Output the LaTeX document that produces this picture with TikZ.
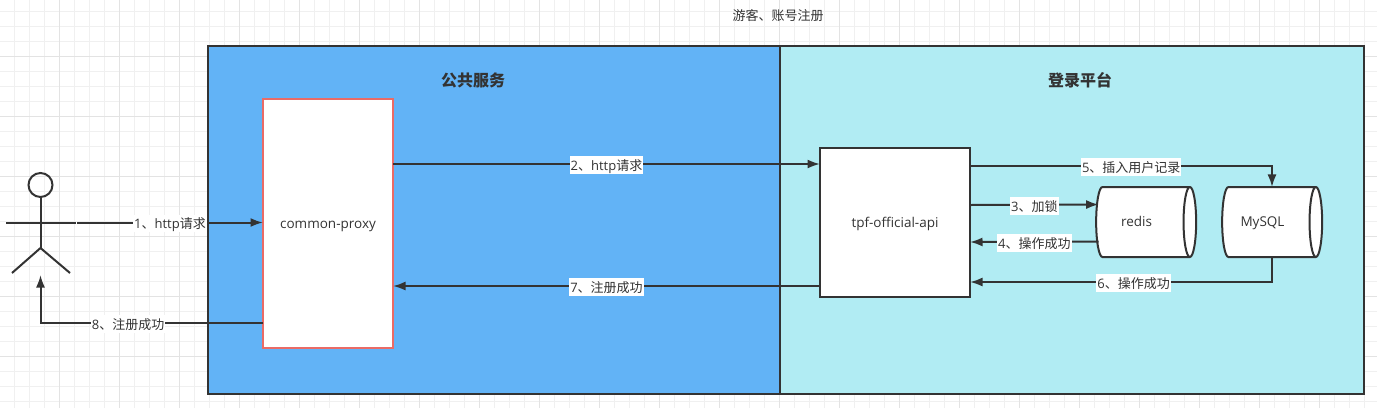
\documentclass[tikz,border=0pt]{standalone}
\usepackage{fontspec}
\usepackage{tikz}
\usetikzlibrary{arrows.meta,shapes.geometric}
\setmainfont{Open Sans}
\newfontfamily\cjk{Noto Sans CJK SC}
\newcommand{\zh}[1]{{\cjk #1}}
\definecolor{inkdark}{HTML}{333333}

\begin{document}
\begin{tikzpicture}[
        x=1pt,y=-1pt,
        minorgrid/.style={draw=black!6,line width=1pt},
        majorgrid/.style={draw=black!11,line width=1pt},
        panel/.style={draw=inkdark,line width=2pt,outer sep=0pt,inner sep=0pt,minimum width=#1,minimum height=348pt},
        box/.style={draw=inkdark,fill=white,line width=2pt,outer sep=0pt,inner sep=0pt,text=inkdark,text height=9pt,text depth=0pt,font=\fontsize{13.5}{15}\selectfont},
        store/.style={box,shape=cylinder,aspect=1.4,minimum width=70pt,minimum height=100pt},
        paneltitle/.style={text=inkdark,font=\fontsize{16}{18}\selectfont\bfseries},
        link/.style={draw=inkdark,line width=2pt,-{Latex[length=12.5pt,width=9pt]}},
        lab/.style={fill=white,text=inkdark,inner xsep=1pt,inner ysep=1.5pt,yshift=-1pt,text height=12.5pt,text depth=2pt,font=\fontsize{13}{15}\selectfont},
        actor/.style={draw=inkdark,line width=2pt}]

    \useasboundingbox (0,0) rectangle (1377,408);

    % grid
    \foreach \gx in {14.5,29.5,...,1375} {\draw[minorgrid] (\gx,0) -- (\gx,408);}
    \foreach \gy in {11.5,26.5,...,408} {\draw[minorgrid] (0,\gy) -- (1377,\gy);}
    \foreach \gx in {59.5,119.5,...,1375} {\draw[majorgrid] (\gx,0) -- (\gx,408);}
    \foreach \gy in {56.5,116.5,...,408} {\draw[majorgrid] (0,\gy) -- (1377,\gy);}

    \node[text=inkdark,font=\fontsize{13}{15}\selectfont] (title) at (778,16) {\zh{游客、账号注册}};

    % panels
    \node[panel=572pt,fill={rgb,255:red,98;green,179;blue,246}] (pubpanel) at (494,220) {};
    \node[panel=584pt,fill={rgb,255:red,177;green,236;blue,243}] (loginpanel) at (1072,220) {};
    \node[paneltitle] (pubtitle) at (473,80) {\zh{公共服务}};
    \node[paneltitle] (logintitle) at (1080,80) {\zh{登录平台}};

    % boxes
    \node[box,draw={rgb,255:red,234;green,107;blue,102},minimum width=130pt,minimum height=249pt] (proxy) at (328,223.5) {common-proxy};
    \node[box,minimum width=150pt,minimum height=149pt] (tpf) at (895,222.5) {tpf-official-api};
    \node[store] (redis) at (1142.5,222) {redis\hspace*{12pt}};
    \node[store] (mysql) at (1268.5,222) {MySQL\hspace*{12pt}};

    % actor
    \node[actor,circle,inner sep=0pt,minimum size=24pt,outer sep=0pt] (head) at (40.5,185) {};
    \coordinate (hip) at (40.5,248);
    \coordinate (armleft) at (6,222.5);
    \coordinate (armright) at (76,222.5);
    \coordinate (hand) at (77,222.5);
    \coordinate (feet) at (40.5,275);
    \draw[actor] (head.south) -- (hip);
    \draw[actor] (armleft) -- (armright);
    \draw[actor] (12,273) -- (hip) -- (70,273);

    % connectors
    \draw[link] (hand) -- node[lab]{1\zh{、}http\zh{请求}} ([yshift=1pt]proxy.west);
    \draw[link] ([yshift=59.5pt]proxy.east) -- node[lab]{2\zh{、}http\zh{请求}} ([yshift=58.5pt]tpf.west);
    \draw[link] ([yshift=17.5pt]tpf.east) -- node[lab]{3\zh{、}\zh{加锁}} ([xshift=2.5pt,yshift=17.5pt]redis.west);
    \draw[link] ([xshift=2.5pt,yshift=-19.5pt]redis.west) -- node[lab]{4\zh{、}\zh{操作成功}} ([yshift=-19.5pt]tpf.east);
    \draw[link] ([yshift=56.5pt]tpf.east) -| node[lab,pos=.267]{5\zh{、}\zh{插入用户记录}} ([xshift=3.5pt]mysql.north);
    \draw[link] ([xshift=3.5pt]mysql.south) |- node[lab,pos=.729]{6\zh{、}\zh{操作成功}} ([yshift=-59.5pt]tpf.east);
    \draw[link] ([yshift=-63.5pt]tpf.west) -- node[lab]{7\zh{、}\zh{注册成功}} ([yshift=-62.5pt]proxy.east);
    \draw[link] ([yshift=-99.5pt]proxy.west) -| node[lab,pos=.303]{8\zh{、}\zh{注册成功}} (feet);
\end{tikzpicture}
\end{document}
